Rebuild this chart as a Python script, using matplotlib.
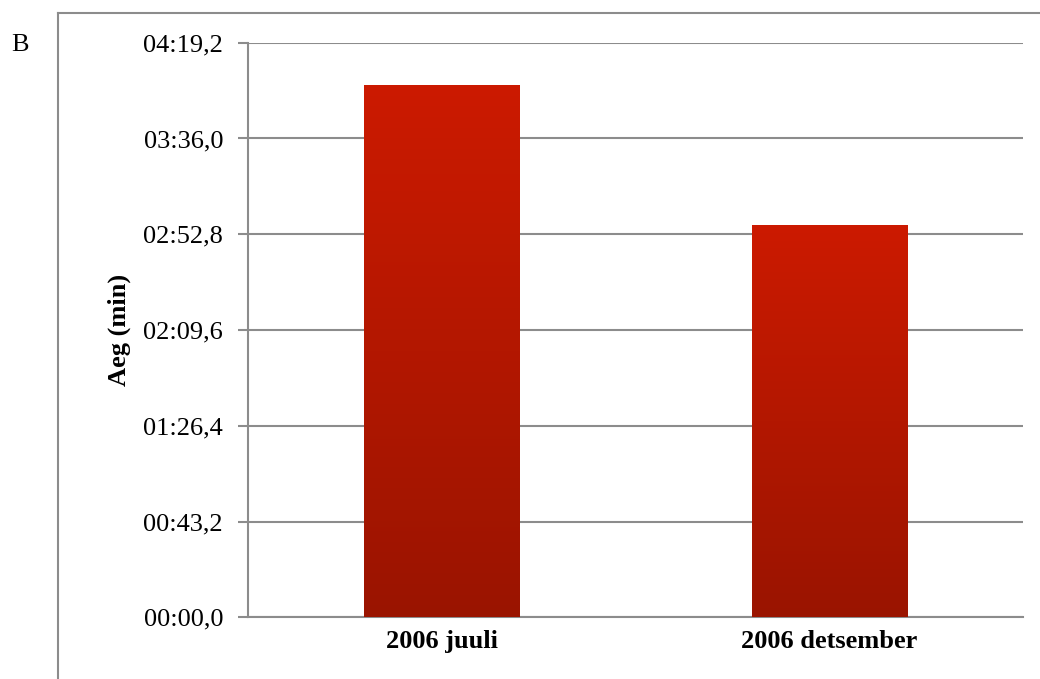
import numpy as np
import matplotlib.pyplot as plt
from matplotlib.lines import Line2D
from matplotlib.colors import LinearSegmentedColormap
from matplotlib.ticker import FuncFormatter, MultipleLocator

# data (seconds)
categories = ["2006 juuli", "2006 detsember"]
durations = [240.1, 177.0]
y_max = 259.2
y_step = 43.2

plt.rcParams['font.family'] = ['Liberation Serif', 'DejaVu Serif']

def fmt_time(v, pos):
    m = int(v // 60)
    s = v - m * 60
    txt = f"{m:02d}:{s:04.1f}"
    return txt.replace(".", ",")

fig = plt.figure(figsize=(10.4, 6.79), dpi=100)
ax = fig.add_axes([0.2385, 0.0909, 0.7452, 0.8462])

grey = "#8c8c8c"

# outer frame
fig.add_artist(Line2D([0.0558, 0.0558], [0.0, 0.9809], color=grey, lw=1.5, transform=fig.transFigure))
fig.add_artist(Line2D([0.0558, 1.0], [0.9809, 0.9809], color=grey, lw=1.5, transform=fig.transFigure))
fig.text(0.011, 0.933, "B", fontsize=19, ha="left", va="center")

x = np.arange(len(categories))
bars = ax.bar(x, durations, width=0.4, color="#b81800", zorder=2)

# vertical gradient on the bars
cmap = LinearSegmentedColormap.from_list("red_grad", ["#9a1400", "#cc1a00"])
grad = np.linspace(0, 1, 256).reshape(-1, 1)
for b in bars:
    x0, w, h = b.get_x(), b.get_width(), b.get_height()
    im = ax.imshow(grad, cmap=cmap, aspect="auto", origin="lower",
                   extent=[x0, x0 + w, 0, h], zorder=3)
    im.set_clip_path(b)

ax.set_xlim(-0.5, len(categories) - 0.5)
ax.set_ylim(0, y_max)
ax.yaxis.set_major_locator(MultipleLocator(y_step))
ax.yaxis.set_major_formatter(FuncFormatter(fmt_time))
ax.grid(axis="y", color=grey, lw=1.5, zorder=0)
ax.set_axisbelow(True)

ax.set_xticks(x)
ax.set_xticklabels(categories, fontsize=19, fontweight="bold")
ax.tick_params(axis="x", length=0, pad=9)
ax.tick_params(axis="y", length=7, width=1.5, color=grey, labelsize=19, pad=11)

for side in ["top", "right"]:
    ax.spines[side].set_visible(False)
for side in ["left", "bottom"]:
    ax.spines[side].set_color(grey)
    ax.spines[side].set_linewidth(1.5)

ax.set_ylabel("Aeg (min)", fontsize=19, fontweight="bold")
ax.yaxis.set_label_coords(-0.151, 0.5)

fig.savefig("out.png", dpi=100)
